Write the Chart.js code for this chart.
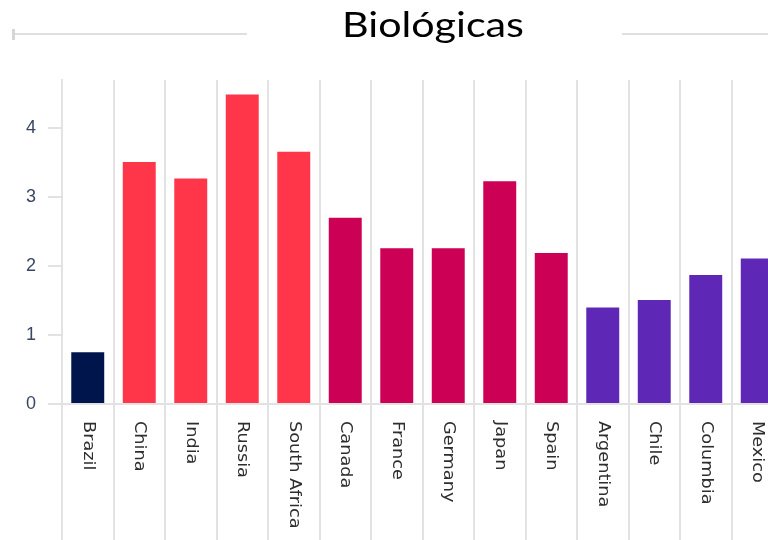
<!DOCTYPE html>
<html>
<head>
<meta charset="utf-8">
<script src="https://cdn.jsdelivr.net/npm/chart.js@4/dist/chart.umd.min.js"></script>
<style>
  html, body { margin: 0; padding: 0; background: #fff; overflow: hidden; width: 768px; height: 540px; }
  #wrap { position: absolute; left: 0; top: 0; width: 793px; height: 540px; }
  #title { position: absolute; left: 433px; top: 7px; font-family: Lato, "Open Sans", sans-serif; font-size: 34px; line-height: 34px; color: #000; white-space: nowrap; transform-origin: center; }
  .rule { position: absolute; background: #e0e0e0; }
</style>
</head>
<body>
<div id="wrap"><canvas id="c" width="793" height="540"></canvas></div>
<div class="rule" style="left:12px; top:33px; width:235px; height:2px;"></div>
<div class="rule" style="left:12px; top:29px; width:3px; height:11px; background:#d6d6d6;"></div>
<div class="rule" style="left:622px; top:33px; width:160px; height:2px;"></div>
<div id="title">Biológicas</div>
<script>
const titleText = "Biológicas";
const categories = ["Brazil", "China", "India", "Russia", "South Africa", "Canada", "France", "Germany", "Japan", "Spain", "Argentina", "Chile", "Columbia", "Mexico"];
const values = [0.75, 3.51, 3.27, 4.49, 3.66, 2.70, 2.26, 2.26, 3.23, 2.19, 1.40, 1.51, 1.87, 2.11];
const groups = ["base", "brics", "brics", "brics", "brics", "dev", "dev", "dev", "dev", "dev", "latam", "latam", "latam", "latam"];
const groupColors = { base: "#00154b", brics: "#ff3549", dev: "#cc0055", latam: "#5e27b6" };
const yTicks = [0, 1, 2, 3, 4];

// title sizing
const t = document.getElementById('title');
t.textContent = titleText;
const w = t.getBoundingClientRect().width;
t.style.transform = 'translateX(-50%) scaleX(' + (182 / w) + ')';

const gridColor = "#e2e2e2";

const labelPlugin = {
  id: 'rotLabels',
  afterDraw(chart) {
    const xs = chart.scales.x;
    const ctx = chart.ctx;
    ctx.save();
    ctx.fillStyle = "#2e2e2e";
    ctx.font = "15px 'DejaVu Sans'";
    ctx.textAlign = "left";
    ctx.textBaseline = "middle";
    xs.ticks.forEach((tk, i) => {
      const x = xs.getPixelForTick(i);
      ctx.save();
      ctx.translate(x, xs.top + 17);
      ctx.rotate(Math.PI / 2);
      ctx.scale(1.18, 1);
      ctx.fillText(categories[i], 0, 0);
      ctx.restore();
    });
    ctx.restore();
  }
};

new Chart(document.getElementById('c'), {
  type: 'bar',
  data: {
    labels: categories,
    datasets: [{
      data: values,
      backgroundColor: groups.map(g => groupColors[g]),
      borderWidth: 0,
      barPercentage: 0.8,
      categoryPercentage: 0.8
    }]
  },
  options: {
    responsive: false,
    animation: false,
    layout: { padding: { left: 0, top: 80, right: 10, bottom: 0 } },
    plugins: { legend: { display: false }, tooltip: { enabled: false }, title: { display: false } },
    scales: {
      x: {
        grid: { color: gridColor, lineWidth: 2, offset: true, drawOnChartArea: true, drawTicks: true, tickLength: 136 },
        border: { display: true, color: gridColor, width: 2 },
        ticks: { display: false },
        afterFit(s) { s.height = 136; }
      },
      y: {
        min: 0,
        max: 4.7,
        afterBuildTicks(s) { s.ticks = yTicks.map(v => ({ value: v })); },
        grid: { drawOnChartArea: false, drawTicks: true, tickLength: 14, color: gridColor, lineWidth: 2 },
        border: { display: true, color: gridColor, width: 2 },
        ticks: { padding: 12, color: "#3a4664", font: { family: "'Liberation Sans'", size: 18 } },
        afterFit(s) { s.width = 62; }
      }
    }
  },
  plugins: [labelPlugin]
});
</script>
</body>
</html>
